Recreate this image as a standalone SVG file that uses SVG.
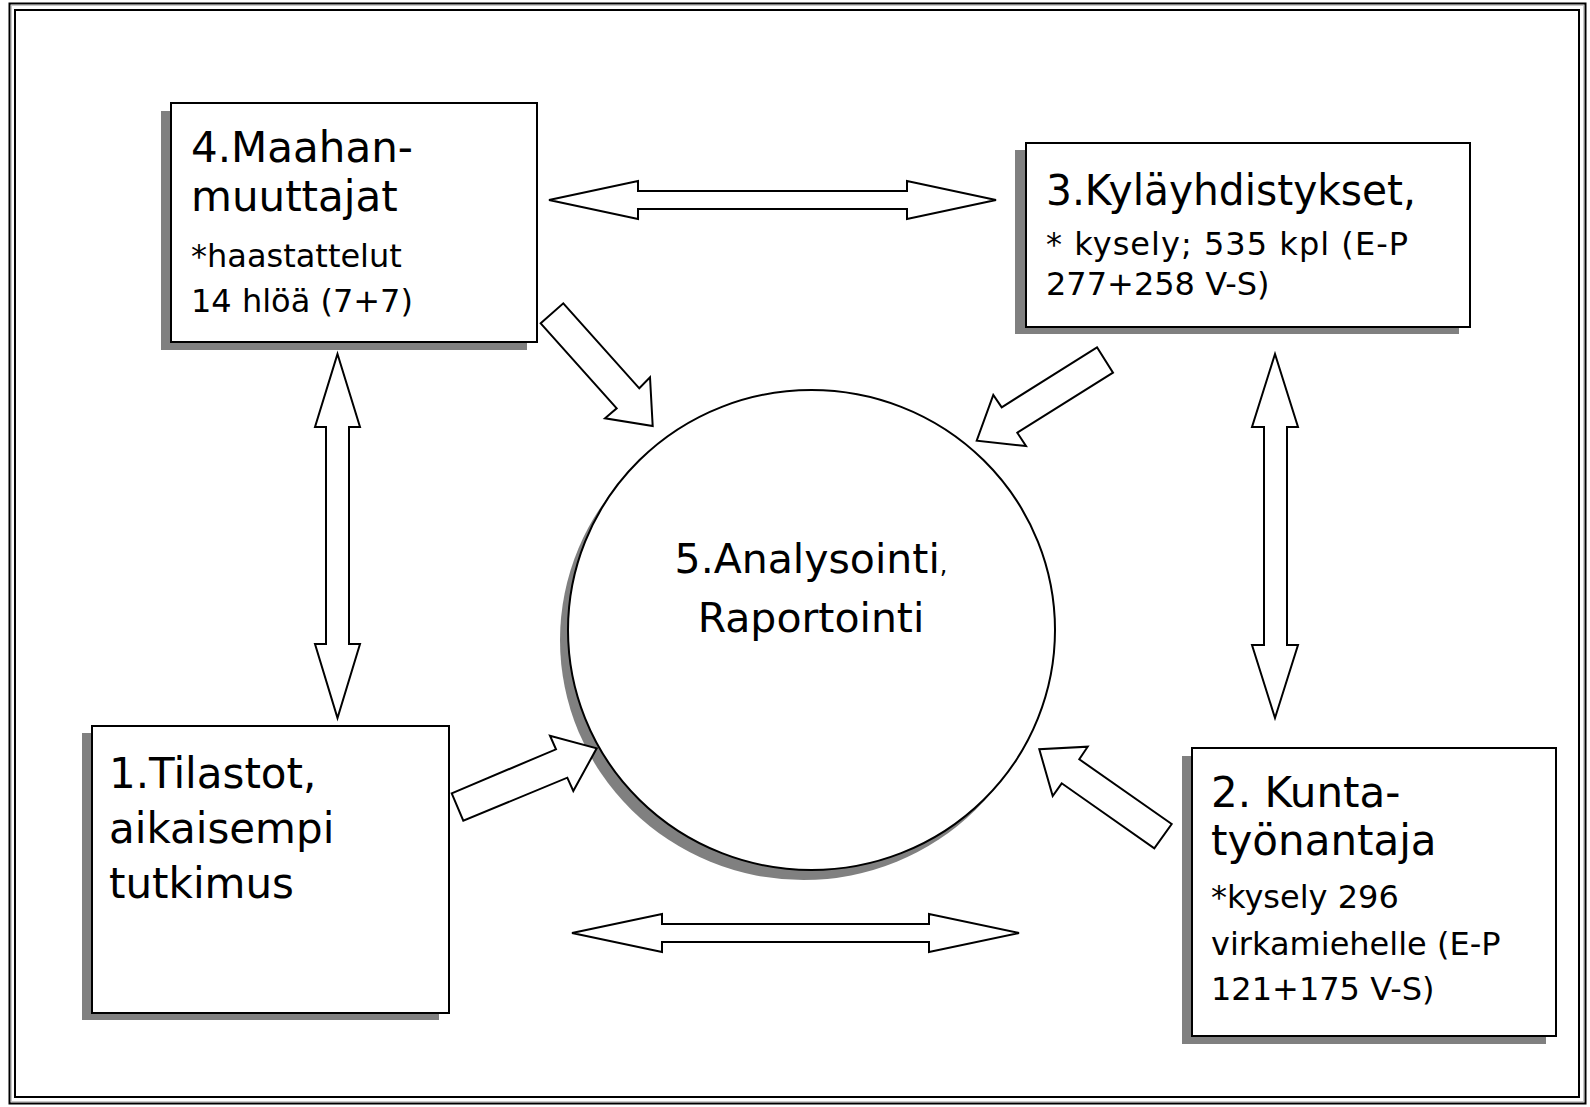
<svg xmlns="http://www.w3.org/2000/svg" width="1590" height="1107" viewBox="0 0 1590 1107">
<style>
.frame{fill:none;stroke:#000;stroke-width:2}
.shadow{fill:#808080;stroke:none}
.box{fill:#fff;stroke:#000;stroke-width:2}
.arrow{fill:#fff;stroke:#000;stroke-width:2;stroke-linejoin:miter}
.big{font-family:"DejaVu Sans","Verdana",sans-serif;font-size:42px;fill:#000}
.small{font-family:"DejaVu Sans","Verdana",sans-serif;font-size:32px;fill:#000}
.mid{font-family:"DejaVu Sans","Verdana",sans-serif;font-size:41px;fill:#000;text-anchor:middle}
</style>
<rect x="0" y="0" width="1590" height="1107" fill="#fff"/>
<rect class="frame" x="9.5" y="3.5" width="1576" height="1100"/>
<rect x="11.5" y="5.5" width="1572" height="1096" fill="none" stroke="#c8c8c8" stroke-width="1"/>
<rect class="frame" x="15" y="10" width="1564" height="1087"/>

<g id="node5">
<ellipse class="shadow" cx="803.5" cy="640" rx="243.5" ry="240"/>
<ellipse class="box" cx="811.5" cy="630" rx="243.5" ry="240"/>
<text class="mid" x="811" y="573">5.Analysointi<tspan font-size="24">,</tspan></text>
<text class="mid" x="811" y="632">Raportointi</text>
</g>

<g id="connectors">
<polygon class="arrow" points="549,200 638,181 638,191 907,191 907,181 996,200 907,219 907,209 638,209 638,219"/>
<polygon class="arrow" points="572,933 662,914 662,924 929,924 929,914 1019,933 929,952 929,942 662,942 662,952"/>
<polygon class="arrow" points="337.5,354 360,427 349,427 349,644 360,644 337.5,718 315,644 326,644 326,427 315,427"/>
<polygon class="arrow" points="1275,354 1298,427 1287,427 1287,645 1298,645 1275,718 1252,645 1264,645 1264,427 1252,427"/>
<polygon class="arrow" points="540.7,323.3 563.3,303.3 639.3,388.3 650,377.3 652.7,426 605,418.3 616.7,408.3"/>
<polygon class="arrow" points="1097,347.3 1113,372.7 1017.3,432.7 1026,446 976.7,440.7 993.3,395 1001.7,407.3"/>
<polygon class="arrow" points="451.7,793.3 556,749.3 550,735.7 596.7,748.3 573.3,791 567.3,777.7 463.3,820.7"/>
<polygon class="arrow" points="1171.7,824 1079.3,759.3 1087.7,746.7 1039.3,749.3 1052.7,796 1061.7,783.3 1154.3,848.3"/>
</g>

<g id="node4">
<rect class="shadow" x="161" y="111" width="366" height="239"/>
<rect class="box" x="171" y="103" width="366" height="239"/>
<text class="big" x="191" y="162">4.Maahan-</text>
<text class="big" x="191" y="211">muuttajat</text>
<text class="small" x="191" y="267">*haastattelut</text>
<text class="small" x="191" y="312">14 hlöä (7+7)</text>
</g>

<g id="node3">
<rect class="shadow" x="1015" y="150" width="444" height="184"/>
<rect class="box" x="1026" y="143" width="444" height="184"/>
<text class="big" x="1046" y="205" textLength="370" lengthAdjust="spacingAndGlyphs">3.Kyläyhdistykset,</text>
<text class="small" x="1046" y="255" textLength="362">* kysely; 535 kpl (E-P</text>
<text class="small" x="1046" y="295">277+258 V-S)</text>
</g>

<g id="node1">
<rect class="shadow" x="82" y="733" width="357" height="287"/>
<rect class="box" x="92" y="726" width="357" height="287"/>
<text class="big" x="109" y="788">1.Tilastot,</text>
<text class="big" x="109" y="843">aikaisempi</text>
<text class="big" x="109" y="898">tutkimus</text>
</g>

<g id="node2">
<rect class="shadow" x="1182" y="756" width="364" height="288"/>
<rect class="box" x="1192" y="748" width="364" height="288"/>
<text class="big" x="1211" y="807">2. Kunta-</text>
<text class="big" x="1211" y="855">työnantaja</text>
<text class="small" x="1211" y="908">*kysely 296</text>
<text class="small" x="1211" y="955">virkamiehelle (E-P</text>
<text class="small" x="1211" y="1000">121+175 V-S)</text>
</g>
</svg>
